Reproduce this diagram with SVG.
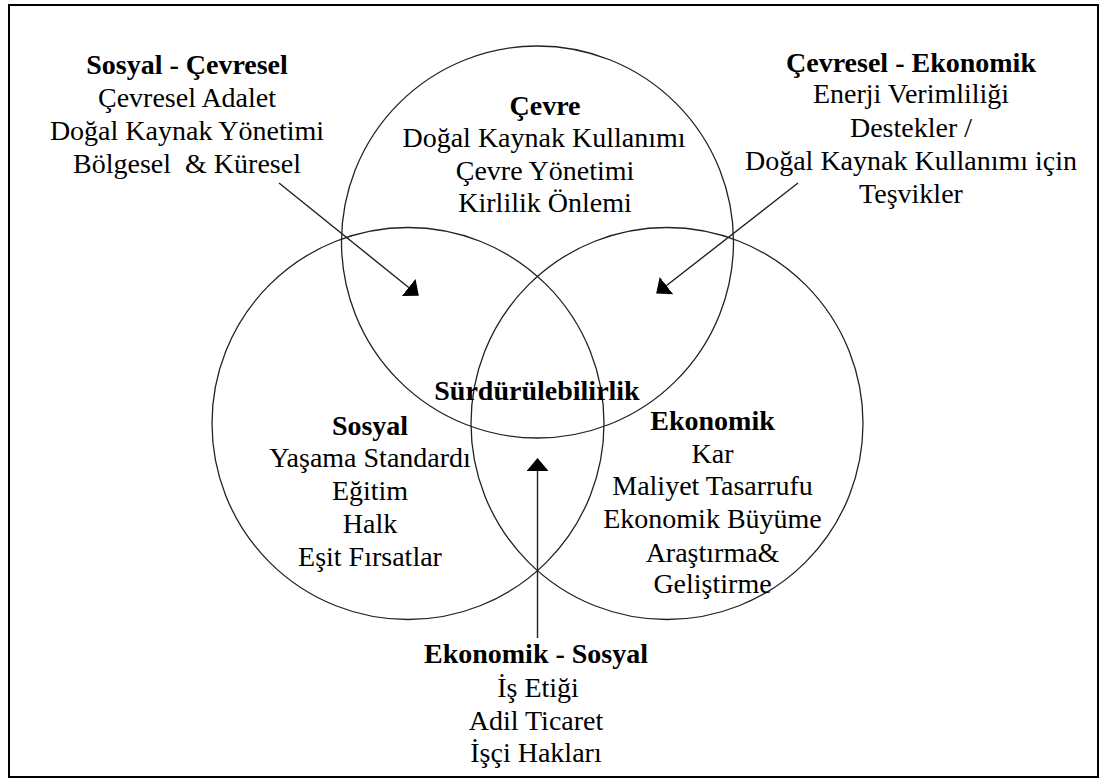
<svg xmlns="http://www.w3.org/2000/svg" width="1101" height="779" viewBox="0 0 1101 779">
<style>
text{font-family:"Liberation Serif","Times New Roman",serif;font-size:28px;fill:#000;text-anchor:middle}
.b{font-weight:bold}
.c{fill:none;stroke:#222;stroke-width:1.3}
.a{fill:none;stroke:#222;stroke-width:1.4}
</style>
<defs>
<marker id="ah" viewBox="0 0 13 22" markerWidth="13" markerHeight="22" refX="12" refY="11" orient="auto" markerUnits="userSpaceOnUse">
<path d="M0,0 L13,11 L0,22 z" fill="#000"/>
</marker>
</defs>
<rect x="0" y="0" width="1101" height="779" fill="#fff"/>
<rect x="9" y="5" width="1089" height="772" fill="none" stroke="#000" stroke-width="2"/>
<g id="cevre">
<circle class="c" cx="537.5" cy="242" r="196"/>
<text class="b" x="545" y="115">Çevre</text>
<text x="544" y="147">Doğal Kaynak Kullanımı</text>
<text x="545" y="180">Çevre Yönetimi</text>
<text x="545" y="212">Kirlilik Önlemi</text>
</g>
<g id="sosyal">
<circle class="c" cx="408" cy="423.5" r="196"/>
<text class="b" x="370" y="435">Sosyal</text>
<text x="370" y="467">Yaşama Standardı</text>
<text x="370" y="500">Eğitim</text>
<text x="370" y="533">Halk</text>
<text x="370" y="566">Eşit Fırsatlar</text>
</g>
<g id="ekonomik">
<circle class="c" cx="667" cy="423.5" r="196"/>
<text class="b" x="712.5" y="430">Ekonomik</text>
<text x="712.5" y="463">Kar</text>
<text x="712.5" y="495">Maliyet Tasarrufu</text>
<text x="712.5" y="528">Ekonomik Büyüme</text>
<text x="712.5" y="562">Araştırma&amp;</text>
<text x="712.5" y="593">Geliştirme</text>
</g>
<g id="surdurulebilirlik">
<text class="b" x="537" y="400">Sürdürülebilirlik</text>
</g>
<g id="sosyal-cevresel">
<text class="b" x="187" y="74">Sosyal - Çevresel</text>
<text x="187" y="107">Çevresel Adalet</text>
<text x="187" y="140">Doğal Kaynak Yönetimi</text>
<text x="187" y="173" xml:space="preserve">Bölgesel  &amp; Küresel</text>
</g>
<g id="cevresel-ekonomik">
<text class="b" x="911" y="72">Çevresel - Ekonomik</text>
<text x="911" y="103">Enerji Verimliliği</text>
<text x="911" y="137">Destekler /</text>
<text x="911" y="170">Doğal Kaynak Kullanımı için</text>
<text x="911" y="203">Teşvikler</text>
</g>
<g id="ekonomik-sosyal">
<text class="b" x="536" y="663">Ekonomik - Sosyal</text>
<text x="538" y="697">İş Etiği</text>
<text x="536" y="730">Adil Ticaret</text>
<text x="536" y="762">İşçi Hakları</text>
</g>
<g id="connectors">
<line class="a" x1="279" y1="183" x2="418" y2="295" marker-end="url(#ah)"/>
<line class="a" x1="798" y1="183" x2="657" y2="293" marker-end="url(#ah)"/>
<line class="a" x1="537.5" y1="638" x2="537.5" y2="459" marker-end="url(#ah)"/>
</g>
</svg>
